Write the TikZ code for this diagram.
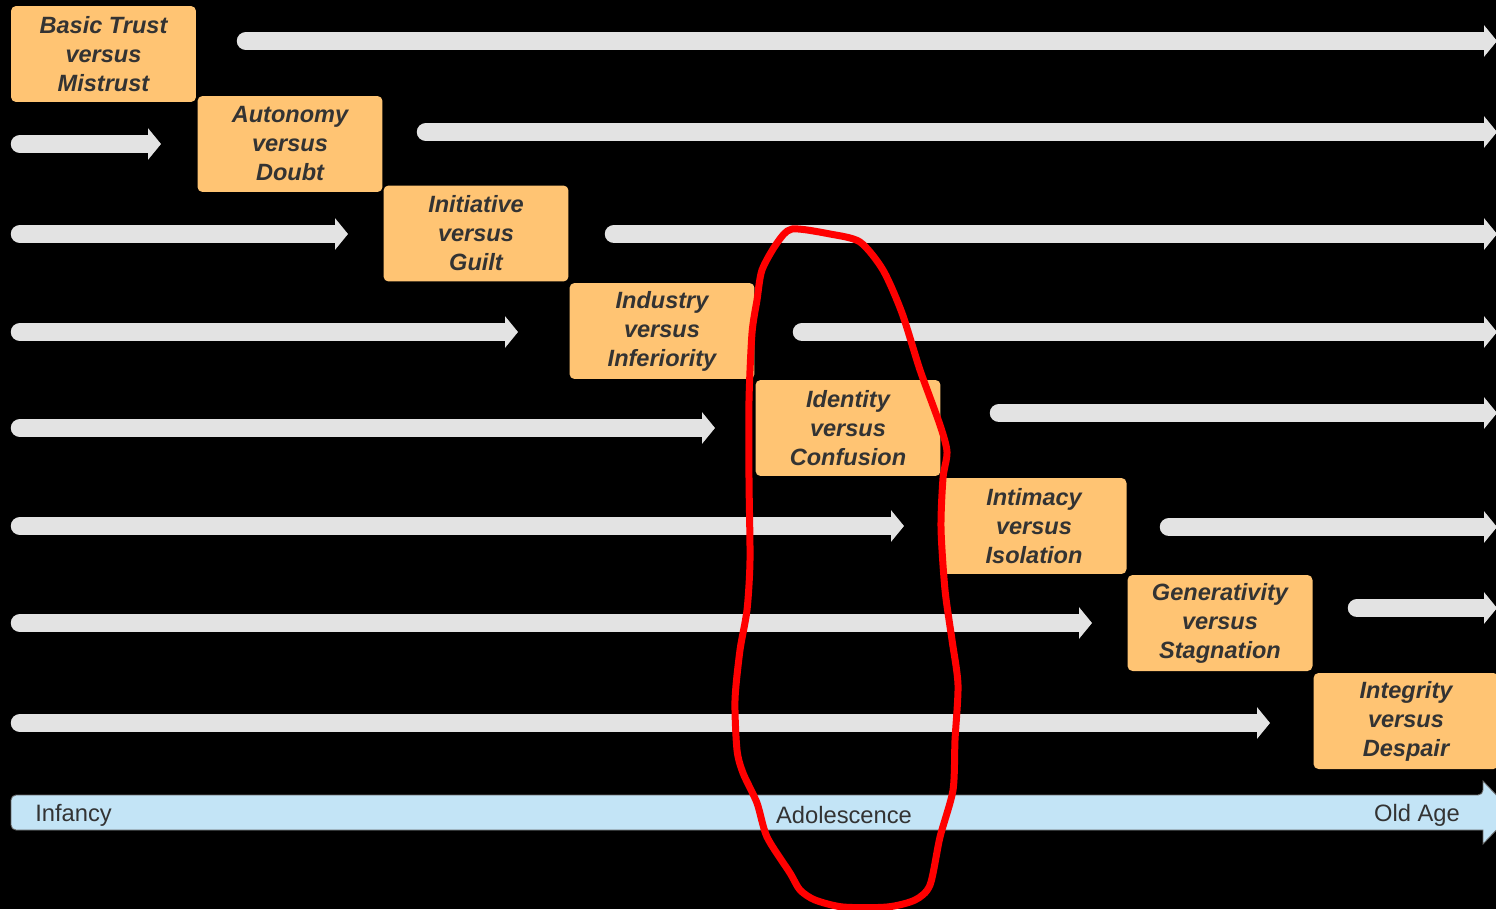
\documentclass[tikz,border=0pt]{standalone}
\usepackage{fontspec}
\setmainfont{Liberation Sans}
\usetikzlibrary{arrows.meta}

\definecolor{stageorange}{HTML}{FFC473}
\definecolor{bargray}{HTML}{E3E3E3}
\definecolor{lifeblue}{HTML}{C3E4F6}
\definecolor{inkgray}{HTML}{333333}

\tikzset{
    stage/.style={fill=stageorange, rounded corners=0.1cm, inner sep=0pt,
        minimum width=3.7cm, minimum height=1.92cm, align=center,
        text=inkgray, font=\fontsize{13.4}{16.5}\selectfont\bfseries\itshape},
    bar/.style={draw=bargray, line width=0.37cm, line cap=round,
        -{Triangle[length=0.26cm, width=0.62cm]}},
    agelabel/.style={text=inkgray, font=\fontsize{13.5}{16}\selectfont, inner sep=0pt}
}

\begin{document}
\begin{tikzpicture}[x=0.02cm, y=-0.02cm]
    \fill[black] (0,0) rectangle (1496,909);
    \useasboundingbox (0,0) rectangle (1496,909);

    % 各段の矢印（段の前と後ろ）
    \foreach \y/\a/\b [count=\k] in {41/237/1497, 132/417/1497, 234/605/1497,
            332/793/1497, 413/990/1497, 527/1160/1497, 608/1348/1497,
            144/11/161, 234/11/348, 332/11/518, 428/11/715,
            526/11/904, 623/11/1092, 723/11/1270} {
        \coordinate (bar\k a) at ({\a+9},\y);
        \coordinate (bar\k b) at (\b,\y);
        \draw[bar] (bar\k a) -- (bar\k b);
    }

    % 八つの発達段階
    \foreach \p/\q/\cx/\cy [count=\i] in {Basic Trust/Mistrust/103.5/54,
            Autonomy/Doubt/290/144, Initiative/Guilt/476/233.5,
            Industry/Inferiority/662/331, Identity/Confusion/848/428,
            Intimacy/Isolation/1034/526, Generativity/Stagnation/1220/623,
            Integrity/Despair/1406/721} {
        \node[stage] (s\i) at (\cx,\cy) {\p\\versus\\\q};
    }

    % 年齢の軸
    \filldraw[fill=lifeblue, draw=gray!80!black, line width=0.5pt]
        (11,800) [rounded corners=0.1cm] -- (11,795) -- (1483,795)
        [sharp corners] -- (1483,781) -- (1513,812.5) -- (1483,844)
        -- (1483,830) [rounded corners=0.1cm] -- (11,830) -- (11,800);
    \node[agelabel, anchor=west] (infancy) at (35,815) {Infancy};
    \node[agelabel] (adolescence) at (844,815) {Adolescence};
    \node[agelabel] (oldage) at (1417,815) {Old Age};

    % 手書きの赤い囲み
    \draw[red, line width=0.14cm, line join=round]
        plot[smooth cycle, tension=0.45] coordinates {
            (792,229) (830,234) (860,242) (883,270) (902,313) (920,370)
            (940,425) (947,452) (943,478) (941,528) (945,590) (952,640)
            (958,685) (955,740) (953,790) (940,837) (930,885) (915,900)
            (887,907) (843,907) (815,900) (800,890) (790,873) (767,837)
            (757,803) (743,773) (737,750) (735,700) (740,650) (747,610)
            (750,560) (749,480) (749,400) (752,333) (757,300) (762,270)
            (777,243)};
\end{tikzpicture}
\end{document}
